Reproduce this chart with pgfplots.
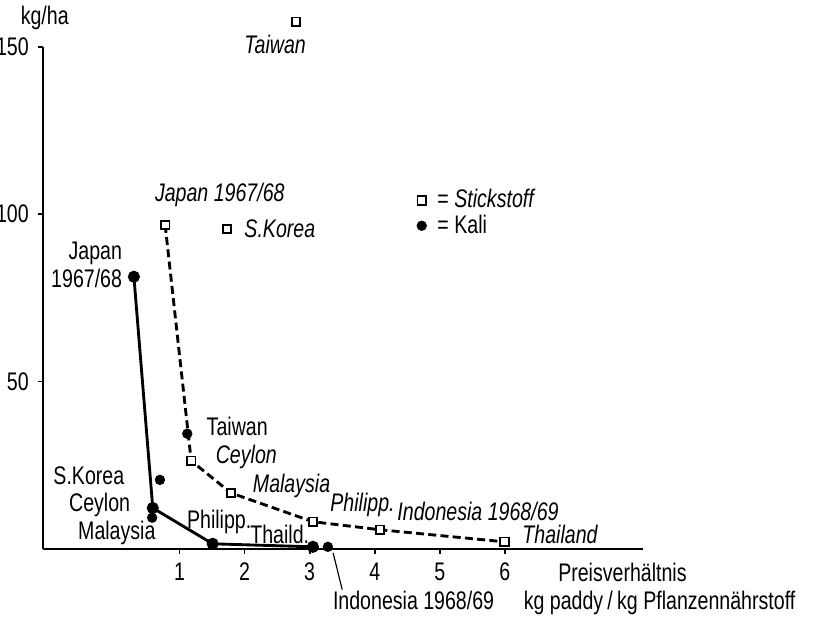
\documentclass[border=0pt]{standalone}
\usepackage{fontspec}
\setmainfont{Liberation Sans}[FakeStretch=0.77]
\usepackage{pgfplots}
\pgfplotsset{compat=1.18}
\begin{document}
\fontsize{8.9}{10}\selectfont
\begin{tikzpicture}
  \begin{axis}[
    scale only axis,
    width=210pt, height=175.7pt,
    xmin=-1.097, xmax=8.12, ymin=0, ymax=150,
    clip=false,
    axis lines=left,
    axis line style={-, line width=0.75pt},
    xtick={1,2,3,4,5,6},
    ytick={50,100,150},
    tick align=outside,
    major tick length=1.8pt,
    tick style={line width=0.6pt, black},
    /pgf/number format/assume math mode=true,
    ticklabel style={font=\fontsize{8.9}{10}\selectfont},
    legend style={draw=none, fill=none, at={(0.618,0.734)}, anchor=north west,
      cells={anchor=west}, font=\fontsize{8.9}{10}\selectfont,
      row sep=-3pt, inner sep=1pt},
    legend cell align=left,
  ]
    % Kali line
    \addplot[forget plot, black, line width=1pt, mark=*, mark size=1.6pt] coordinates {
      (0.30,81.3) (0.59,12.2) (1.51,1.5) (3.05,0.6)
    };
    % Kali, einzelne Punkte
    \addplot[forget plot, only marks, mark=*, mark size=1.6pt, black] coordinates {
      (1.12,34.4) (0.70,20.6) (0.58,9.3) (3.28,0.6)
    };
    % Stickstoff line
    \addplot[forget plot, black, line width=1pt, dash pattern=on 2.8pt off 1.5pt,
      mark=square*, mark size=1.5pt,
      mark options={solid, fill=white, line width=0.65pt}] coordinates {
      (0.78,96.8) (1.18,26.3) (1.79,16.7) (3.05,8.1) (4.08,5.7) (5.99,2.1)
    };
    % Stickstoff, einzelne Punkte
    \addplot[forget plot, only marks, mark=square*, mark size=1.5pt,
      mark options={fill=white, line width=0.65pt}] coordinates {
      (2.79,157.5) (1.73,95.6)
    };
    \addlegendimage{only marks, mark=square*, mark size=1.5pt, mark options={fill=white, line width=0.65pt}}
    \addlegendentry{\ = \textit{Stickstoff}}
    \addlegendimage{only marks, mark=*, mark size=1.6pt, black}
    \addlegendentry{\ = Kali}

    % Beschriftung Stickstoff
    \node at (axis cs:-1.07,158.6) {kg/ha};
    \node at (axis cs:2.47,150.6) {\itshape Taiwan};
    \node at (axis cs:1.62,105.8) {\itshape Japan 1967/68};
    \node[anchor=west] at (axis cs:1.86,95.6) {\itshape S.Korea};
    \node[anchor=west] at (axis cs:1.42,27.5) {\itshape Ceylon};
    \node[anchor=west] at (axis cs:1.99,18.8) {\itshape Malaysia};
    \node[anchor=west] at (axis cs:3.18,13.1) {\itshape Philipp.};
    \node[anchor=west] at (axis cs:4.21,11.1) {\itshape Indonesia 1968/69};
    \node[anchor=west] at (axis cs:6.13,4.2) {\itshape Thailand};
    % Beschriftung Kali
    \node[anchor=east, align=right, inner sep=1pt] at (axis cs:0.17,84.8) {Japan\\1967/68};
    \node[anchor=west] at (axis cs:1.28,36.7) {Taiwan};
    \node[anchor=east] at (axis cs:0.29,21.8) {S.Korea};
    \node[anchor=east] at (axis cs:0.38,13.1) {Ceylon};
    \node[anchor=east] at (axis cs:0.77,4.8) {Malaysia};
    \node at (axis cs:1.61,8.1) {Philipp.};
    \node at (axis cs:2.54,4.2) {Thaild.};
    \node[anchor=west] at (axis cs:3.22,-15.5) {Indonesia 1968/69};
    \draw[line width=0.4pt] (axis cs:3.36,-1.2) -- (axis cs:3.50,-12.2);
    % Achsentitel
    \node[anchor=west] at (axis cs:6.68,-6.9) {Preisverhältnis};
    \node[anchor=east] at (axis cs:10.60,-16.1) {kg paddy\,/\,kg Pflanzennährstoff};

    \coordinate (bl) at (axis cs:-1.757,-20.3);
    \coordinate (tr) at (axis cs:10.886,164.0);
  \end{axis}
  \pgfresetboundingbox
  \path[use as bounding box] (bl) rectangle (tr);
\end{tikzpicture}
\end{document}
